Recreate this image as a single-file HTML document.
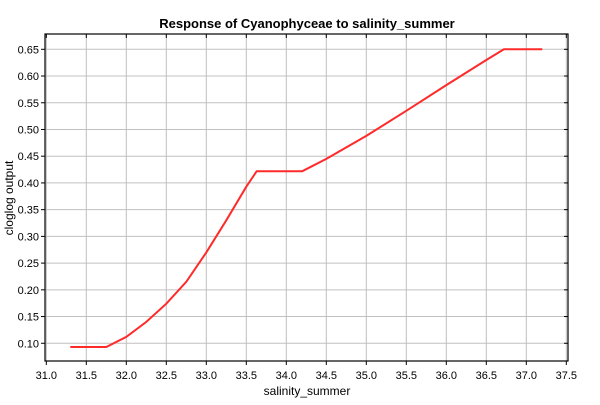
<!DOCTYPE html>
<html><head><meta charset="utf-8"><style>
body{margin:0;background:#fff;font-family:"Liberation Sans",sans-serif;}
</style></head><body>
<svg width="600" height="400" id="c" xmlns="http://www.w3.org/2000/svg" font-family="Liberation Sans, sans-serif">
<text x="307" y="28" text-anchor="middle" font-size="13" font-weight="bold">Response of Cyanophyceae to salinity_summer</text>
<text x="307" y="395" text-anchor="middle" font-size="12">salinity_summer</text>
<text transform="translate(13,198) rotate(-90)" text-anchor="middle" font-size="12">cloglog output</text>
<g id="grid"></g>
<g id="ticks"></g>
<path id="line" fill="none" stroke="#ff2a2a" stroke-width="2"/>
<rect x="45" y="34" width="523" height="327" fill="none" stroke="#000" stroke-width="1.2"/>
</svg>
<script>
const xTicks=["31.0","31.5","32.0","32.5","33.0","33.5","34.0","34.5","35.0","35.5","36.0","36.5","37.0","37.5"];
const yTicks=["0.10","0.15","0.20","0.25","0.30","0.35","0.40","0.45","0.50","0.55","0.60","0.65"];
const xs=[31.3,31.75,32.0,32.25,32.5,32.75,33.0,33.25,33.5,33.63,34.2,34.5,35.0,35.5,36.0,36.5,36.72,37.2];
const ys=[0.093,0.093,0.112,0.140,0.174,0.215,0.270,0.330,0.393,0.422,0.422,0.445,0.488,0.535,0.583,0.630,0.650,0.650];
const X=v=>46.3+(v-31)*80;
const Y=v=>49.3+(0.65-v)*534.5;
const ns="http://www.w3.org/2000/svg";
const g=document.getElementById('grid'),t=document.getElementById('ticks');
function mk(tag,a,p){const e=document.createElementNS(ns,tag);for(const k in a)e.setAttribute(k,a[k]);p.appendChild(e);return e;}
xTicks.forEach(s=>{const x=X(+s);
 if(x>46&&x<567){const l=mk('line',{x1:x,x2:x,y1:34,y2:361,stroke:'#c0c0c0'},g);}
 mk('line',{x1:x,x2:x,y1:361,y2:365,stroke:'#000'},t);mk('line',{x1:x,x2:x,y1:34,y2:38,stroke:'#000'},t);
 const tx=mk('text',{x:x,y:379,'text-anchor':'middle','font-size':'11'},t);tx.textContent=s;
 });
yTicks.forEach(s=>{const y=Y(+s);
 const l=mk('line',{x1:45,x2:568,y1:y,y2:y,stroke:'#c0c0c0'},g);
 mk('line',{x1:41,x2:45,y1:y,y2:y,stroke:'#000'},t);mk('line',{x1:564,x2:568,y1:y,y2:y,stroke:'#000'},t);
 const tx=mk('text',{x:39,y:y+4,'text-anchor':'end','font-size':'11'},t);tx.textContent=s;
 });
document.getElementById('line').setAttribute('d',xs.map((v,i)=>(i?'L':'M')+X(v).toFixed(1)+','+Y(ys[i]).toFixed(1)).join(''));
</script>
</body></html>
